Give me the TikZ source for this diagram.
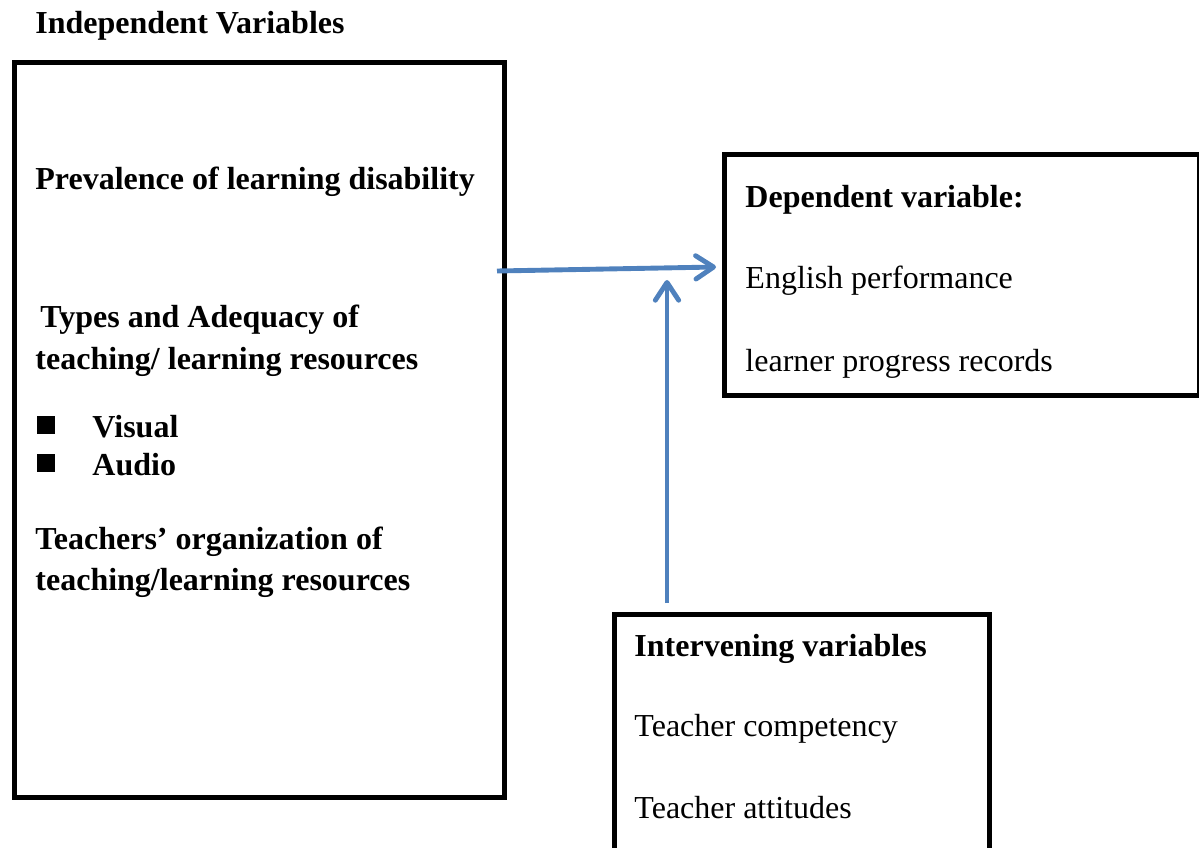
\documentclass[tikz,border=0pt]{standalone}
\usepackage{fontspec}
\setmainfont{Liberation Serif}
\usetikzlibrary{arrows.meta, positioning}

\begin{document}
\begin{tikzpicture}[
    x=0.45pt, y=-0.45pt,
    box/.style={
        rectangle, draw, line width=2.2pt, inner sep=0pt
    },
    txt/.style={anchor=base west, inner sep=0pt, font=\fontsize{14.4pt}{17pt}\selectfont},
    hd/.style={txt, font=\fontsize{14.4pt}{17pt}\selectfont\bfseries},
    bullet/.style={rectangle, fill=black, inner sep=0pt, minimum size=8pt},
    flow/.style={draw=flowblue, line width=2.2pt,
        -{Straight Barb[length=8pt, width=10.5pt, line cap=round, line join=round]}},
]
\definecolor{flowblue}{HTML}{4F81BD}
\useasboundingbox (0,0) rectangle (1199,848);
\clip (0,0) rectangle (1199,848);

% Independent variables
\node[hd] (indeptitle) at (35,34) {Independent Variables};
\node[box, anchor=north west, minimum width=220.5pt, minimum height=330.8pt] (indep) at (12,60) {};

\node[hd] (prev) at (35,190) {Prevalence of learning disability};
\node[hd] (types) at (40,328) {Types and Adequacy of};
\node[hd] (types2) at (35,369) {teaching/ learning resources};
\node[bullet] (b1) at (46,425) {};
\node[hd] (visual) at (92,437) {Visual};
\node[bullet] (b2) at (46,463) {};
\node[hd] (audio) at (92,475) {Audio};
\node[hd] (org) at (35,549) {Teachers’ organization of};
\node[hd] (org2) at (35,590) {teaching/learning resources};

% Dependent variable
\node[box, anchor=north west, minimum width=213.8pt, minimum height=108.5pt] (dep) at (722,152) {};
\node[hd] (deptitle) at (745,208) {Dependent variable:};
\node[txt] (english) at (745,289) {English performance};
\node[txt] (records) at (745,371) {learner progress records};

% Intervening variables (box runs off the page)
\node[box, anchor=north west, minimum width=168.8pt, minimum height=112pt] (inter) at (612,612) {};
\node[hd] (intertitle) at (634,656) {Intervening variables};
\node[txt] (compet) at (634,736) {Teacher competency};
\node[txt] (attit) at (634,818) {Teacher attitudes};

% Arrows
\coordinate (src) at (497,271);
\coordinate (tgt) at (716,267);
\coordinate (up) at (667,603);
\coordinate (uptip) at (667,280);
\draw[flow] (src) -- (tgt);
\draw[flow] (up) -- (uptip);

\end{tikzpicture}
\end{document}
